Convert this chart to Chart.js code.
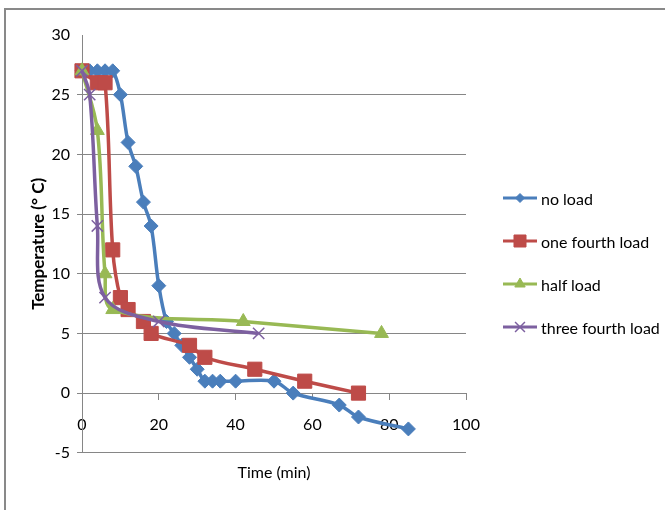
<!DOCTYPE html>
<html>
<head>
<meta charset="utf-8">
<script src="https://cdn.jsdelivr.net/npm/chart.js@4"></script>
<style>
  html, body { margin: 0; padding: 0; background: #fff; }
  #wrap { position: relative; width: 665px; height: 510px; overflow: hidden; }
  #frame { position: absolute; left: 4px; top: 8px; width: 700px; height: 600px; border: 2px solid #898989; box-sizing: border-box; }
  #chart { position: absolute; left: 0; top: 0; }
  .item { position: absolute; left: 503px; height: 20px; display: flex; align-items: center; white-space: nowrap;
          font: 16px Lato, sans-serif; color: #000; }
  .item canvas { margin-right: 4px; }
</style>
</head>
<body>
<div id="wrap">
  <div id="frame"></div>
  <canvas id="chart" width="665" height="510"></canvas>
  <div id="legend"></div>
</div>
<script>
// values (time in min, temperature in deg C)
const seriesNames = ["no load", "one fourth load", "half load", "three fourth load"];

const noLoadTime = [0, 2, 4, 6, 8, 10, 12, 14, 16, 18, 20, 22, 24, 26, 28, 30, 32, 34, 36, 40, 50, 55, 67, 72, 85];
const noLoadTemp = [27, 27, 27, 27, 27, 25, 21, 19, 16, 14, 9, 6, 5, 4, 3, 2, 1, 1, 1, 1, 1, 0, -1, -2, -3];

const quarterTime = [0, 4, 6, 8, 10, 12, 16, 18, 28, 32, 45, 58, 72];
const quarterTemp = [27, 26, 26, 12, 8, 7, 6, 5, 4, 3, 2, 1, 0];

const halfTime = [0, 4, 6, 8, 42, 78];
const halfTemp = [27, 22, 10, 7, 6, 5];

const threeQuarterTime = [0, 2, 4, 6, 20, 46];
const threeQuarterTemp = [27, 25, 14, 8, 6, 5];

const xMin = 0, xMax = 100, xStep = 20;
const yMin = -5, yMax = 30, yStep = 5;

const gridColor = "#868686";
const font = "Lato, sans-serif";

function points(xs, ys) {
  return xs.map((x, i) => ({ x, y: ys[i] }));
}

const styles = [
  { color: "#4A7EBB", pointStyle: "rectRot", radius: 7, legendRadius: 4.5, pw: 1 },
  { color: "#BE4B48", pointStyle: "rect", radius: 10, legendRadius: 8.5, pw: 1 },
  { color: "#98B954", pointStyle: "triangle", radius: 8, legendRadius: 6, pw: 1 },
  { color: "#7D60A0", pointStyle: "crossRot", radius: 8, legendRadius: 7, pw: 1.5 },
];
const series = [
  points(noLoadTime, noLoadTemp),
  points(quarterTime, quarterTemp),
  points(halfTime, halfTemp),
  points(threeQuarterTime, threeQuarterTemp),
];

// legend: line + marker swatch, then the label
const legendTops = [188, 231, 274, 317];
seriesNames.forEach((name, i) => {
  const s = styles[i];
  const item = document.createElement("div");
  item.className = "item";
  item.style.top = legendTops[i] + "px";
  const c = document.createElement("canvas");
  c.width = 34;
  c.height = 20;
  const g = c.getContext("2d");
  g.strokeStyle = s.color;
  g.lineWidth = 3;
  g.beginPath();
  g.moveTo(0, 10);
  g.lineTo(34, 10);
  g.stroke();
  g.fillStyle = s.color;
  g.lineWidth = s.pw;
  Chart.helpers.drawPoint(g, { pointStyle: s.pointStyle, radius: s.legendRadius, borderWidth: s.pw, rotation: 0 }, 17, 10);
  item.appendChild(c);
  const label = document.createElement("span");
  label.textContent = name;
  item.appendChild(label);
  document.getElementById("legend").appendChild(item);
});

new Chart(document.getElementById("chart"), {
  type: "line",
  data: {
    datasets: series.map((data, i) => ({
      label: seriesNames[i],
      data,
      order: 4 - i,
      borderColor: styles[i].color,
      backgroundColor: styles[i].color,
      borderWidth: 3.5,
      tension: 0.35,
      clip: false,
      pointStyle: styles[i].pointStyle,
      pointRadius: styles[i].radius,
      pointBorderWidth: styles[i].pw,
      pointBackgroundColor: styles[i].color,
      pointBorderColor: styles[i].color,
    })),
  },
  options: {
    responsive: false,
    animation: false,
    events: [],
    layout: { padding: { left: 20, top: 35, right: 199, bottom: 28 } },
    plugins: {
      tooltip: { enabled: false },
      legend: { display: false },
      title: {
        display: true,
        text: "Time (min)",
        position: "bottom",
        fullSize: false,
        padding: { top: 10, bottom: 0 },
        color: "#000",
        font: { family: font, size: 16, weight: "normal" },
      },
    },
    scales: {
      x: {
        type: "linear",
        position: { y: 0 },
        min: xMin,
        max: xMax,
        ticks: { stepSize: xStep, padding: 16, color: "#000", font: { family: font, size: 16 } },
        grid: { drawOnChartArea: false, tickLength: 6, color: gridColor },
        border: { color: gridColor },
      },
      y: {
        min: yMin,
        max: yMax,
        ticks: { stepSize: yStep, padding: 7, color: "#000", font: { family: font, size: 16 } },
        grid: {
          tickLength: 5,
          color: (ctx) => (ctx.tick && ctx.tick.value === yMax ? "rgba(0,0,0,0)" : gridColor),
        },
        border: { color: gridColor },
        title: {
          display: true,
          text: "Temperature (° C)",
          color: "#000",
          padding: { top: 8, bottom: 0 },
          font: { family: font, size: 17, weight: "bold" },
        },
        afterFit: (s) => {
          s.width = 62;
        },
      },
    },
  },
});
</script>
</body>
</html>
